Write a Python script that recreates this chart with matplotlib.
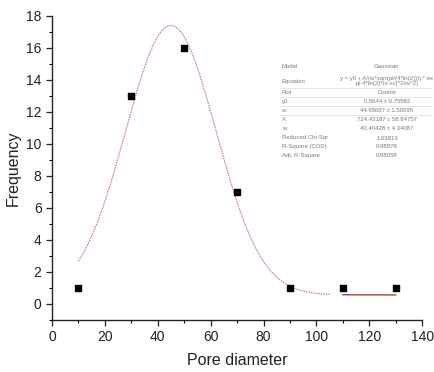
import numpy as np
import matplotlib
matplotlib.use("Agg")
import matplotlib.pyplot as plt
from matplotlib.ticker import MultipleLocator

plt.rcParams['font.family'] = ['Liberation Sans', 'DejaVu Sans']

# Data
pore_diameter = [10, 30, 50, 70, 90, 110, 130]
frequency = [1, 13, 16, 7, 1, 1, 1]

# Gaussian fit parameters (Origin Gaussian, FWHM form)
y0 = 0.5644
xc = 44.9569
A = 724.43187
w = 40.40428

table_rows = [
    ("Model", "Gaussian"),
    ("Equation", "y = y0 + A/(w*sqrt(pi/(4*ln(2)))) * ex\np(-4*ln(2)*(x-xc)^2/w^2)"),
    ("Plot", "Counts"),
    ("y0", "0.5644 ± 0.75582"),
    ("xc", "44.95687 ± 1.50095"),
    ("A", "724.43187 ± 58.84757"),
    ("w", "40.40428 ± 4.34087"),
    ("Reduced Chi-Sqr", "1.63813"),
    ("R-Square (COD)", "0.98878"),
    ("Adj. R-Square", "0.98058"),
]


def gauss(x):
    return y0 + A / (w * np.sqrt(np.pi / (4 * np.log(2)))) * np.exp(-4 * np.log(2) * (x - xc) ** 2 / w ** 2)


fig = plt.figure(figsize=(4.35, 3.72), dpi=100)
ax = fig.add_axes([0.1195, 0.14, 0.851, 0.817])

x1 = np.linspace(10, 105, 300)
ax.plot(x1, gauss(x1), linestyle=(0, (1.2, 0.8)), color='#c98080', lw=0.9)
x2 = np.linspace(110, 130, 50)
ax.plot(x2, gauss(x2), linestyle='-', color='#b83a3a', lw=1.0)

ax.scatter(pore_diameter, frequency, marker='s', s=24, color='black', zorder=5)

ax.set_xlim(0, 140)
ax.set_ylim(-1, 18)
ax.xaxis.set_major_locator(MultipleLocator(20))
ax.xaxis.set_minor_locator(MultipleLocator(10))
ax.yaxis.set_minor_locator(MultipleLocator(1))
ax.set_yticks(np.arange(0, 19, 2))
ax.tick_params(which='major', direction='out', length=4, width=0.9, labelsize=10, colors='#222222')
ax.tick_params(which='minor', direction='out', length=2.5, width=0.8)
for s in ['top', 'right']:
    ax.spines[s].set_visible(False)
for s in ['left', 'bottom']:
    ax.spines[s].set_linewidth(1.0)
    ax.spines[s].set_color('#222222')

ax.set_xlabel('Pore diameter', fontsize=11.5, labelpad=6, color='#222222')
ax.set_ylabel('Frequency', fontsize=11.5, labelpad=4, color='#222222')

# Fit table
txt_c = '#7a7a7a'
fs = 4.3
row_y = [67, 81, 93, 101.5, 110.5, 120, 129, 138, 146.5, 155]
H = 372.0
Wd = 435.0
left_x = 282 / Wd
val_x = 387 / Wd
for (lab, val), ry in zip(table_rows, row_y):
    yy = 1 - ry / H
    fig.text(left_x, yy, lab, fontsize=fs, color=txt_c, ha='left', va='center')
    fig.text(val_x, yy, val, fontsize=fs, color=txt_c, ha='center', va='center',
             linespacing=1.1)
for ly in [88, 97, 106, 115]:
    fig.add_artist(plt.Line2D([280 / Wd, 432 / Wd], [1 - ly / H, 1 - ly / H],
                              color='#dddddd', lw=0.5))

fig.savefig('out.png', dpi=100)
